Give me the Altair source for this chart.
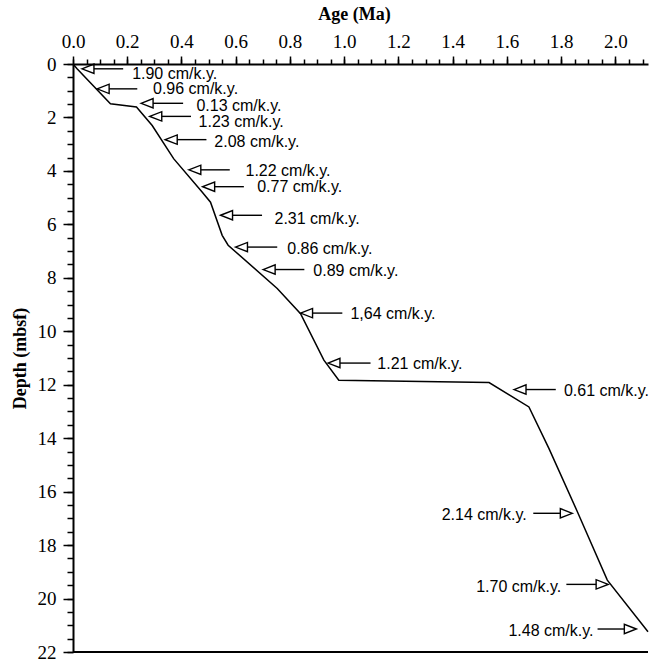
import altair as alt
import pandas as pd

# ---- age-depth curve (Age in Ma, Depth in mbsf) ----
ages = [0.0, 0.015, 0.138, 0.234, 0.292, 0.371, 0.476, 0.507, 0.55, 0.572,
        0.753, 0.839, 0.925, 0.98, 1.534, 1.681, 1.755, 1.86, 1.97, 2.12]
depths = [0.0, 0.18, 1.49, 1.61, 2.30, 3.54, 4.79, 5.17, 6.41, 6.78,
          8.40, 9.34, 11.08, 11.83, 11.92, 12.83, 14.39, 16.76, 19.31, 21.24]

# ---- sedimentation-rate annotations ----
rate_labels = ["1.90 cm/k.y.", "0.96 cm/k.y.", "0.13 cm/k.y.", "1.23 cm/k.y.",
               "2.08 cm/k.y.", "1.22 cm/k.y.", "0.77 cm/k.y.", "2.31 cm/k.y.",
               "0.86 cm/k.y.", "0.89 cm/k.y.", "1,64 cm/k.y.", "1.21 cm/k.y.",
               "0.61 cm/k.y.", "2.14 cm/k.y.", "1.70 cm/k.y.", "1.48 cm/k.y."]
arrow_dir = ["left"] * 13 + ["right"] * 3
tip_age = [0.033, 0.089, 0.251, 0.283, 0.34, 0.427, 0.478, 0.544, 0.599, 0.701,
           0.839, 0.94, 1.626, 1.841, 1.973, 2.077]
tip_depth = [0.18, 0.93, 1.47, 1.96, 2.83, 3.96, 4.59, 5.66, 6.85, 7.69,
             9.32, 11.19, 12.18, 16.81, 19.47, 21.14]
tail_age = [0.185, 0.237, 0.406, 0.435, 0.492, 0.578, 0.63, 0.697, 0.753, 0.853,
            0.993, 1.097, 1.78, 1.697, 1.819, 1.934]
text_age = [0.218, 0.295, 0.455, 0.463, 0.521, 0.636, 0.679, 0.743, 0.79, 0.886,
            1.023, 1.122, 1.81, 1.673, 1.80, 1.919]
text_depth = [0.36, 0.95, 1.59, 2.18, 2.92, 4.01, 4.61, 5.79, 6.91, 7.75,
              9.37, 11.21, 12.23, 16.88, 19.56, 21.2]

# ---- axis ticks ----
x_major = [0.0, 0.2, 0.4, 0.6, 0.8, 1.0, 1.2, 1.4, 1.6, 1.8, 2.0]
x_minor = [round(i * 0.05, 2) for i in range(43)]
y_major = [0, 2, 4, 6, 8, 10, 12, 14, 16, 18, 20, 22]
y_minor = [i * 0.5 for i in range(45)]

line_df = pd.DataFrame({"age": ages, "depth": depths, "idx": range(len(ages))})
ann_df = pd.DataFrame({"label": rate_labels, "dir": arrow_dir,
                       "tip_age": tip_age, "tip_depth": tip_depth,
                       "tail_age": tail_age, "text_age": text_age,
                       "text_depth": text_depth})
left_df = ann_df[ann_df["dir"] == "left"]
right_df = ann_df[ann_df["dir"] == "right"]
border_df = pd.DataFrame({"depth": [22]})

xs = alt.Scale(domain=[0, 2.12], nice=False, zero=False)
ys = alt.Scale(domain=[0, 22], nice=False, zero=False, reverse=True)

SERIF = "Liberation Serif"
SANS = "Liberation Sans"

x_axis = alt.Axis(orient="top", values=x_major, format=".1f", title="Age (Ma)",
                  titleFont=SERIF, titleFontWeight="bold", titleFontSize=18,
                  titleColor="black", titleX=281, titleY=-45,
                  titleAlign="center", titleBaseline="alphabetic",
                  titleAnchor="start",
                  labelFont=SERIF, labelFontSize=19, labelColor="black",
                  labelBaseline="alphabetic", labelPadding=9,
                  labelFlush=False, labelOverlap=False,
                  tickSize=8, tickColor="black", tickWidth=1.5,
                  domainColor="black", domainWidth=2, grid=False)
y_axis = alt.Axis(orient="left", values=y_major, format="d", title="Depth (mbsf)",
                  titleFont=SERIF, titleFontWeight="bold", titleFontSize=18,
                  titleColor="black", titleX=-48, titleBaseline="alphabetic",
                  labelFont=SERIF, labelFontSize=19, labelColor="black",
                  labelBaseline="middle", labelPadding=7,
                  labelFlush=False, labelOverlap=False,
                  tickSize=10, tickColor="black", tickWidth=1.5,
                  domainColor="black", domainWidth=2, grid=False)
x_axis_minor = alt.Axis(orient="top", values=x_minor, labels=False, title=None,
                        tickSize=5, tickColor="black", tickWidth=1.5,
                        domain=False, grid=False)
y_axis_minor = alt.Axis(orient="left", values=y_minor, labels=False, title=None,
                        tickSize=6, tickColor="black", tickWidth=1.5,
                        domain=False, grid=False)

curve = alt.Chart(line_df).mark_line(color="black", strokeWidth=1.5).encode(
    x=alt.X("age:Q", scale=xs, axis=x_axis),
    y=alt.Y("depth:Q", scale=ys, axis=y_axis),
    order="idx:Q",
)

border = alt.Chart(border_df).mark_rule(color="black", strokeWidth=2).encode(
    y=alt.Y("depth:Q", scale=ys, axis=y_axis)
)

left_shaft = alt.Chart(left_df).mark_rule(color="black", strokeWidth=1.4, xOffset=12).encode(
    x=alt.X("tip_age:Q", scale=xs, axis=x_axis),
    x2="tail_age:Q",
    y=alt.Y("tip_depth:Q", scale=ys, axis=y_axis),
)
left_head = alt.Chart(left_df).mark_point(
    shape="M0,0 L2,-0.78 L2,0.78 Z", size=144, filled=False,
    color="black", strokeWidth=1.4, opacity=1,
).encode(
    x=alt.X("tip_age:Q", scale=xs, axis=x_axis),
    y=alt.Y("tip_depth:Q", scale=ys, axis=y_axis),
)
left_text = alt.Chart(left_df).mark_text(
    align="left", baseline="middle", font=SANS, fontSize=16, color="black"
).encode(
    x=alt.X("text_age:Q", scale=xs, axis=x_axis),
    y=alt.Y("text_depth:Q", scale=ys, axis=y_axis),
    text="label:N",
)

right_shaft = alt.Chart(right_df).mark_rule(color="black", strokeWidth=1.4, xOffset=-12).encode(
    x=alt.X("tip_age:Q", scale=xs, axis=x_axis),
    x2="tail_age:Q",
    y=alt.Y("tip_depth:Q", scale=ys, axis=y_axis),
)
right_head = alt.Chart(right_df).mark_point(
    shape="M0,0 L-2,-0.78 L-2,0.78 Z", size=144, filled=False,
    color="black", strokeWidth=1.4, opacity=1,
).encode(
    x=alt.X("tip_age:Q", scale=xs, axis=x_axis),
    y=alt.Y("tip_depth:Q", scale=ys, axis=y_axis),
)
right_text = alt.Chart(right_df).mark_text(
    align="right", baseline="middle", font=SANS, fontSize=16, color="black"
).encode(
    x=alt.X("text_age:Q", scale=xs, axis=x_axis),
    y=alt.Y("text_depth:Q", scale=ys, axis=y_axis),
    text="label:N",
)

main = alt.layer(curve, border, left_shaft, left_head, left_text,
                 right_shaft, right_head, right_text)

minor = alt.Chart(line_df).mark_point(opacity=0).encode(
    x=alt.X("age:Q", scale=xs, axis=x_axis_minor),
    y=alt.Y("depth:Q", scale=ys, axis=y_axis_minor),
)

chart = alt.layer(main, minor).resolve_scale(
    x="independent", y="independent"
).properties(
    width=575, height=588,
    autosize=alt.AutoSizeParams(type="none"),
    padding={"left": 73, "top": 64, "right": 1, "bottom": 9},
    background="white",
).configure_view(stroke=None)

chart.save("out.html", embed_options={"renderer": "svg", "actions": False})
